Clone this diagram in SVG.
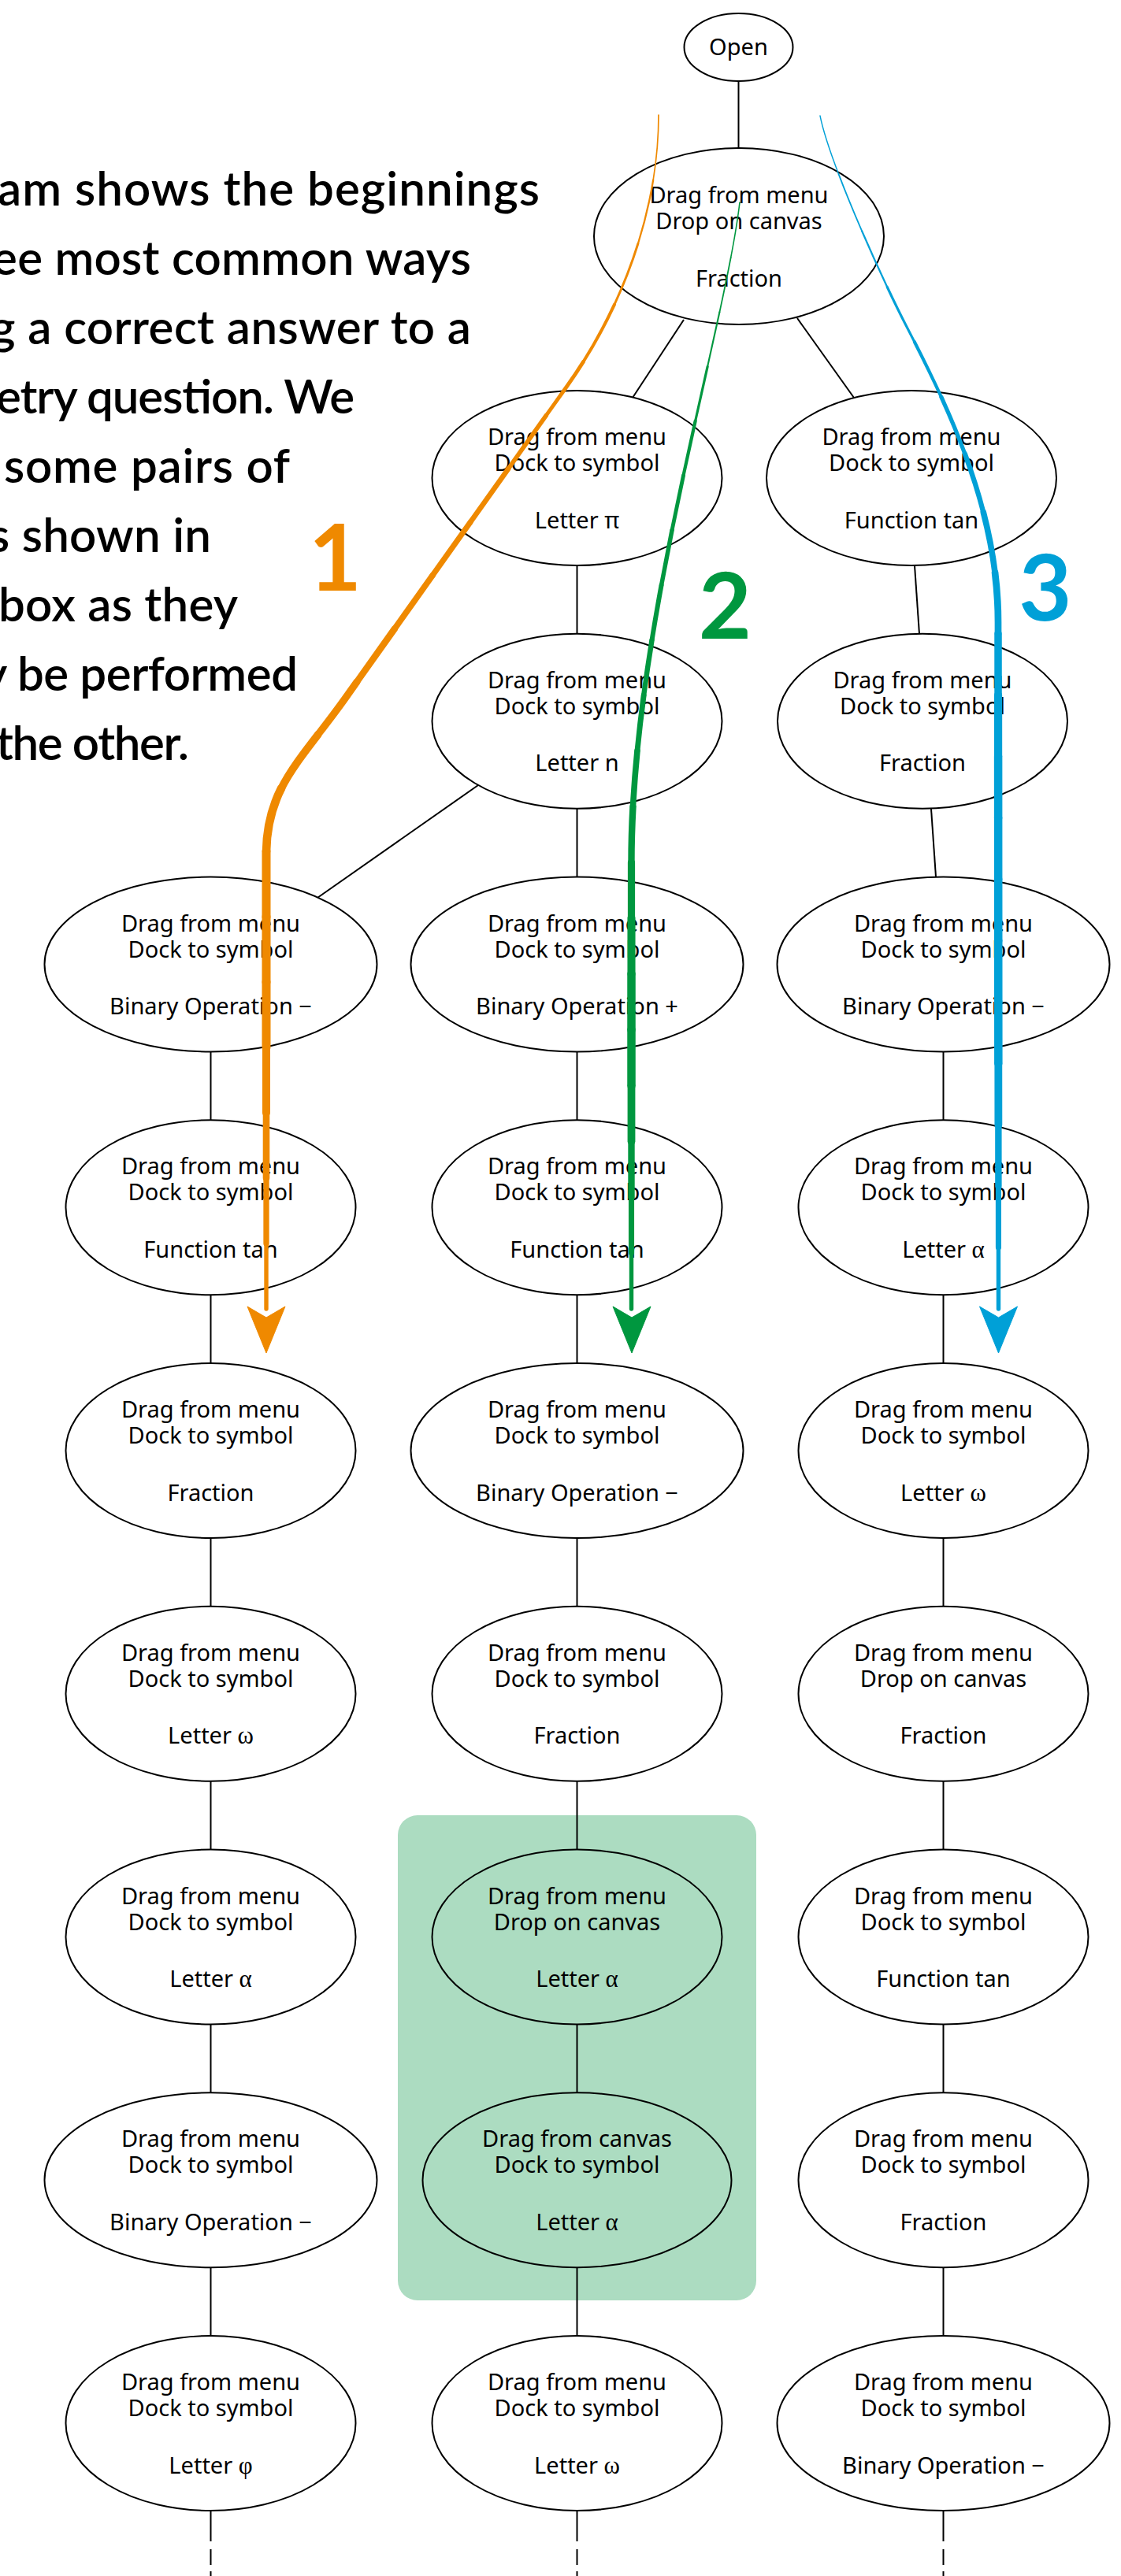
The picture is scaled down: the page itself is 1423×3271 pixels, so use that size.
<svg xmlns="http://www.w3.org/2000/svg" xmlns:xlink="http://www.w3.org/1999/xlink" width="1423" height="3271" viewBox="0 0 1423 3271">
<style>
.node ellipse{fill:#fff;stroke:#000;stroke-width:2}
.node.hl ellipse{fill:none}
.node text{font-family:"Noto Sans","Open Sans",sans-serif;font-size:29px;text-anchor:middle;fill:#000}
.gk{font-family:"Liberation Serif","DejaVu Serif",serif;font-size:31px}
.edge line{stroke:#000;stroke-width:2}
.tail{stroke-dasharray:39 10 20 8 20}
.hdr{font-family:Lato,"Open Sans",sans-serif;font-size:60px;font-weight:600;fill:#000}
.lbl{font-family:Lato,"Open Sans",sans-serif;font-size:116px;font-weight:700;text-anchor:middle}
.seg{fill:none;stroke-linecap:round}
.o{stroke:#ef8900;fill:#ef8900}
.g{stroke:#00973f;fill:#00973f}
.b{stroke:#00a0d7;fill:#00a0d7}
</style>
<defs>
<path id="p1" d="M836,146 C836,266 791,390 720,490 L438,887 C381,967 338,1000 338,1085 L338,1662" pathLength="100"/>
<path id="p2" d="M939,257 C920,420 800,800 801.5,1100 L801.5,1662" pathLength="100"/>
<path id="p3" d="M1041,147 C1053,207 1119,353 1150,413 C1207,523 1267,650 1267,790 L1267.5,1662" pathLength="100"/>
</defs>
<rect id="highlight" x="505" y="2305" width="455" height="616" rx="25" fill="#acdcc1"/>
<g id="text">
<text class="hdr" x="-3" y="261" textLength="688" lengthAdjust="spacing">am shows the beginnings</text>
<text class="hdr" x="-10" y="349" textLength="608" lengthAdjust="spacing">ee most common ways</text>
<text class="hdr" x="-12" y="437" textLength="610" lengthAdjust="spacing">g a correct answer to a</text>
<text class="hdr" x="-5" y="525" textLength="455" lengthAdjust="spacing">etry question. We</text>
<text class="hdr" x="5" y="613" textLength="363" lengthAdjust="spacing">some pairs of</text>
<text class="hdr" x="-14" y="701" textLength="282" lengthAdjust="spacing">s shown in</text>
<text class="hdr" x="-2" y="789" textLength="304" lengthAdjust="spacing">box as they</text>
<text class="hdr" x="-22" y="877" textLength="400" lengthAdjust="spacing">y be performed</text>
<text class="hdr" x="-5" y="965" textLength="245" lengthAdjust="spacing">the other.</text>
</g>
<g id="connectors" class="edge">
<line x1="937.5" y1="103" x2="937.5" y2="189"/>
<line x1="868" y1="406" x2="803" y2="505"/>
<line x1="1012" y1="404" x2="1084" y2="505"/>
<line x1="732.5" y1="718" x2="732.5" y2="805"/>
<line x1="1161" y1="718" x2="1167" y2="805"/>
<line x1="607" y1="997" x2="403" y2="1140"/>
<line x1="732.5" y1="1027" x2="732.5" y2="1113.5"/>
<line x1="1182" y1="1027" x2="1188" y2="1113.5"/>
<line x1="267.5" y1="1335.5" x2="267.5" y2="1422.25"/>
<line x1="267.5" y1="1644.25" x2="267.5" y2="1731"/>
<line x1="267.5" y1="1953" x2="267.5" y2="2039.75"/>
<line x1="267.5" y1="2261.75" x2="267.5" y2="2348.5"/>
<line x1="267.5" y1="2570.5" x2="267.5" y2="2657.25"/>
<line x1="267.5" y1="2879.25" x2="267.5" y2="2966"/>
<line class="tail" x1="267.5" y1="3188" x2="267.5" y2="3271"/>
<line x1="732.5" y1="1335.5" x2="732.5" y2="1422.25"/>
<line x1="732.5" y1="1644.25" x2="732.5" y2="1731"/>
<line x1="732.5" y1="1953" x2="732.5" y2="2039.75"/>
<line x1="732.5" y1="2261.75" x2="732.5" y2="2348.5"/>
<line x1="732.5" y1="2570.5" x2="732.5" y2="2657.25"/>
<line x1="732.5" y1="2879.25" x2="732.5" y2="2966"/>
<line class="tail" x1="732.5" y1="3188" x2="732.5" y2="3271"/>
<line x1="1197.5" y1="1335.5" x2="1197.5" y2="1422.25"/>
<line x1="1197.5" y1="1644.25" x2="1197.5" y2="1731"/>
<line x1="1197.5" y1="1953" x2="1197.5" y2="2039.75"/>
<line x1="1197.5" y1="2261.75" x2="1197.5" y2="2348.5"/>
<line x1="1197.5" y1="2570.5" x2="1197.5" y2="2657.25"/>
<line x1="1197.5" y1="2879.25" x2="1197.5" y2="2966"/>
<line class="tail" x1="1197.5" y1="3188" x2="1197.5" y2="3271"/>
</g>
<g id="n-open" class="node"><ellipse cx="937.5" cy="60" rx="69" ry="43"/><text x="937.5" y="70">Open</text></g>
<g id="n-fraction-top" class="node"><ellipse cx="938" cy="300" rx="184" ry="112"/><text x="938" y="258">Drag from menu</text><text x="938" y="291">Drop on canvas</text><text x="938" y="363.5">Fraction</text></g>
<g id="n-m2" class="node"><ellipse cx="732.5" cy="607" rx="184" ry="111"/><text x="732.5" y="565">Drag from menu</text><text x="732.5" y="598">Dock to symbol</text><text x="732.5" y="670.5">Letter π</text></g>
<g id="n-r2" class="node"><ellipse cx="1157" cy="607" rx="184" ry="111"/><text x="1157" y="565">Drag from menu</text><text x="1157" y="598">Dock to symbol</text><text x="1157" y="670.5">Function tan</text></g>
<g id="n-m3" class="node"><ellipse cx="732.5" cy="915.75" rx="184" ry="111"/><text x="732.5" y="873.75">Drag from menu</text><text x="732.5" y="906.75">Dock to symbol</text><text x="732.5" y="979.25">Letter n</text></g>
<g id="n-r3" class="node"><ellipse cx="1171" cy="915.75" rx="184" ry="111"/><text x="1171" y="873.75">Drag from menu</text><text x="1171" y="906.75">Dock to symbol</text><text x="1171" y="979.25">Fraction</text></g>
<g id="n-l4" class="node"><ellipse cx="267.5" cy="1224.5" rx="211" ry="111"/><text x="267.5" y="1182.5">Drag from menu</text><text x="267.5" y="1215.5">Dock to symbol</text><text x="267.5" y="1288">Binary Operation −</text></g>
<g id="n-m4" class="node"><ellipse cx="732.5" cy="1224.5" rx="211" ry="111"/><text x="732.5" y="1182.5">Drag from menu</text><text x="732.5" y="1215.5">Dock to symbol</text><text x="732.5" y="1288">Binary Operation +</text></g>
<g id="n-r4" class="node"><ellipse cx="1197.5" cy="1224.5" rx="211" ry="111"/><text x="1197.5" y="1182.5">Drag from menu</text><text x="1197.5" y="1215.5">Dock to symbol</text><text x="1197.5" y="1288">Binary Operation −</text></g>
<g id="n-l5" class="node"><ellipse cx="267.5" cy="1533.25" rx="184" ry="111"/><text x="267.5" y="1491.25">Drag from menu</text><text x="267.5" y="1524.25">Dock to symbol</text><text x="267.5" y="1596.75">Function tan</text></g>
<g id="n-m5" class="node"><ellipse cx="732.5" cy="1533.25" rx="184" ry="111"/><text x="732.5" y="1491.25">Drag from menu</text><text x="732.5" y="1524.25">Dock to symbol</text><text x="732.5" y="1596.75">Function tan</text></g>
<g id="n-r5" class="node"><ellipse cx="1197.5" cy="1533.25" rx="184" ry="111"/><text x="1197.5" y="1491.25">Drag from menu</text><text x="1197.5" y="1524.25">Dock to symbol</text><text x="1197.5" y="1596.75">Letter <tspan class="gk">α</tspan></text></g>
<g id="n-l6" class="node"><ellipse cx="267.5" cy="1842" rx="184" ry="111"/><text x="267.5" y="1800">Drag from menu</text><text x="267.5" y="1833">Dock to symbol</text><text x="267.5" y="1905.5">Fraction</text></g>
<g id="n-m6" class="node"><ellipse cx="732.5" cy="1842" rx="211" ry="111"/><text x="732.5" y="1800">Drag from menu</text><text x="732.5" y="1833">Dock to symbol</text><text x="732.5" y="1905.5">Binary Operation −</text></g>
<g id="n-r6" class="node"><ellipse cx="1197.5" cy="1842" rx="184" ry="111"/><text x="1197.5" y="1800">Drag from menu</text><text x="1197.5" y="1833">Dock to symbol</text><text x="1197.5" y="1905.5">Letter <tspan class="gk">ω</tspan></text></g>
<g id="n-l7" class="node"><ellipse cx="267.5" cy="2150.75" rx="184" ry="111"/><text x="267.5" y="2108.75">Drag from menu</text><text x="267.5" y="2141.75">Dock to symbol</text><text x="267.5" y="2214.25">Letter <tspan class="gk">ω</tspan></text></g>
<g id="n-m7" class="node"><ellipse cx="732.5" cy="2150.75" rx="184" ry="111"/><text x="732.5" y="2108.75">Drag from menu</text><text x="732.5" y="2141.75">Dock to symbol</text><text x="732.5" y="2214.25">Fraction</text></g>
<g id="n-r7" class="node"><ellipse cx="1197.5" cy="2150.75" rx="184" ry="111"/><text x="1197.5" y="2108.75">Drag from menu</text><text x="1197.5" y="2141.75">Drop on canvas</text><text x="1197.5" y="2214.25">Fraction</text></g>
<g id="n-l8" class="node"><ellipse cx="267.5" cy="2459.5" rx="184" ry="111"/><text x="267.5" y="2417.5">Drag from menu</text><text x="267.5" y="2450.5">Dock to symbol</text><text x="267.5" y="2523">Letter <tspan class="gk">α</tspan></text></g>
<g id="n-m8" class="node hl"><ellipse cx="732.5" cy="2459.5" rx="184" ry="111"/><text x="732.5" y="2417.5">Drag from menu</text><text x="732.5" y="2450.5">Drop on canvas</text><text x="732.5" y="2523">Letter <tspan class="gk">α</tspan></text></g>
<g id="n-r8" class="node"><ellipse cx="1197.5" cy="2459.5" rx="184" ry="111"/><text x="1197.5" y="2417.5">Drag from menu</text><text x="1197.5" y="2450.5">Dock to symbol</text><text x="1197.5" y="2523">Function tan</text></g>
<g id="n-l9" class="node"><ellipse cx="267.5" cy="2768.25" rx="211" ry="111"/><text x="267.5" y="2726.25">Drag from menu</text><text x="267.5" y="2759.25">Dock to symbol</text><text x="267.5" y="2831.75">Binary Operation −</text></g>
<g id="n-m9" class="node hl"><ellipse cx="732.5" cy="2768.25" rx="196" ry="111"/><text x="732.5" y="2726.25">Drag from canvas</text><text x="732.5" y="2759.25">Dock to symbol</text><text x="732.5" y="2831.75">Letter <tspan class="gk">α</tspan></text></g>
<g id="n-r9" class="node"><ellipse cx="1197.5" cy="2768.25" rx="184" ry="111"/><text x="1197.5" y="2726.25">Drag from menu</text><text x="1197.5" y="2759.25">Dock to symbol</text><text x="1197.5" y="2831.75">Fraction</text></g>
<g id="n-l10" class="node"><ellipse cx="267.5" cy="3077" rx="184" ry="111"/><text x="267.5" y="3035">Drag from menu</text><text x="267.5" y="3068">Dock to symbol</text><text x="267.5" y="3140.5">Letter <tspan class="gk">φ</tspan></text></g>
<g id="n-m10" class="node"><ellipse cx="732.5" cy="3077" rx="184" ry="111"/><text x="732.5" y="3035">Drag from menu</text><text x="732.5" y="3068">Dock to symbol</text><text x="732.5" y="3140.5">Letter <tspan class="gk">ω</tspan></text></g>
<g id="n-r10" class="node"><ellipse cx="1197.5" cy="3077" rx="211" ry="111"/><text x="1197.5" y="3035">Drag from menu</text><text x="1197.5" y="3068">Dock to symbol</text><text x="1197.5" y="3140.5">Binary Operation −</text></g>
<g id="path-1" class="o">
<use xlink:href="#p1" class="seg" stroke-width="1.7" stroke-dasharray="5 300" stroke-dashoffset="0"/>
<use xlink:href="#p1" class="seg" stroke-width="2.3" stroke-dasharray="5 300" stroke-dashoffset="-5"/>
<use xlink:href="#p1" class="seg" stroke-width="2.9" stroke-dasharray="5 300" stroke-dashoffset="-10"/>
<use xlink:href="#p1" class="seg" stroke-width="4.0" stroke-dasharray="5 300" stroke-dashoffset="-15"/>
<use xlink:href="#p1" class="seg" stroke-width="4.8" stroke-dasharray="5 300" stroke-dashoffset="-20"/>
<use xlink:href="#p1" class="seg" stroke-width="5.6" stroke-dasharray="5 300" stroke-dashoffset="-25"/>
<use xlink:href="#p1" class="seg" stroke-width="6.5" stroke-dasharray="5 300" stroke-dashoffset="-30"/>
<use xlink:href="#p1" class="seg" stroke-width="7.1" stroke-dasharray="5 300" stroke-dashoffset="-35"/>
<use xlink:href="#p1" class="seg" stroke-width="7.7" stroke-dasharray="5 300" stroke-dashoffset="-40"/>
<use xlink:href="#p1" class="seg" stroke-width="8.4" stroke-dasharray="5 300" stroke-dashoffset="-45"/>
<use xlink:href="#p1" class="seg" stroke-width="9.1" stroke-dasharray="5 300" stroke-dashoffset="-50"/>
<use xlink:href="#p1" class="seg" stroke-width="9.8" stroke-dasharray="5 300" stroke-dashoffset="-55"/>
<use xlink:href="#p1" class="seg" stroke-width="10.6" stroke-dasharray="5 300" stroke-dashoffset="-60"/>
<use xlink:href="#p1" class="seg" stroke-width="11" stroke-dasharray="5 300" stroke-dashoffset="-65"/>
<use xlink:href="#p1" class="seg" stroke-width="11" stroke-dasharray="5 300" stroke-dashoffset="-70"/>
<use xlink:href="#p1" class="seg" stroke-width="11" stroke-dasharray="5 300" stroke-dashoffset="-75"/>
<use xlink:href="#p1" class="seg" stroke-width="10" stroke-dasharray="5 300" stroke-dashoffset="-80"/>
<use xlink:href="#p1" class="seg" stroke-width="8.6" stroke-dasharray="5 300" stroke-dashoffset="-85"/>
<use xlink:href="#p1" class="seg" stroke-width="7.3" stroke-dasharray="5 300" stroke-dashoffset="-90"/>
<use xlink:href="#p1" class="seg" stroke-width="5.4" stroke-dasharray="5 300" stroke-dashoffset="-95"/>
<polygon points="314,1659 338,1673 362,1659 338,1718"/>
</g>
<g id="path-2" class="g">
<use xlink:href="#p2" class="seg" stroke-width="1.6" stroke-dasharray="5 300" stroke-dashoffset="0"/>
<use xlink:href="#p2" class="seg" stroke-width="1.8" stroke-dasharray="5 300" stroke-dashoffset="-5"/>
<use xlink:href="#p2" class="seg" stroke-width="2.1" stroke-dasharray="5 300" stroke-dashoffset="-10"/>
<use xlink:href="#p2" class="seg" stroke-width="3.2" stroke-dasharray="5 300" stroke-dashoffset="-15"/>
<use xlink:href="#p2" class="seg" stroke-width="4.2" stroke-dasharray="5 300" stroke-dashoffset="-20"/>
<use xlink:href="#p2" class="seg" stroke-width="4.9" stroke-dasharray="5 300" stroke-dashoffset="-25"/>
<use xlink:href="#p2" class="seg" stroke-width="5.5" stroke-dasharray="5 300" stroke-dashoffset="-30"/>
<use xlink:href="#p2" class="seg" stroke-width="6.0" stroke-dasharray="5 300" stroke-dashoffset="-35"/>
<use xlink:href="#p2" class="seg" stroke-width="6.4" stroke-dasharray="5 300" stroke-dashoffset="-40"/>
<use xlink:href="#p2" class="seg" stroke-width="6.9" stroke-dasharray="5 300" stroke-dashoffset="-45"/>
<use xlink:href="#p2" class="seg" stroke-width="7.6" stroke-dasharray="5 300" stroke-dashoffset="-50"/>
<use xlink:href="#p2" class="seg" stroke-width="8.4" stroke-dasharray="5 300" stroke-dashoffset="-55"/>
<use xlink:href="#p2" class="seg" stroke-width="9.2" stroke-dasharray="5 300" stroke-dashoffset="-60"/>
<use xlink:href="#p2" class="seg" stroke-width="10.1" stroke-dasharray="5 300" stroke-dashoffset="-65"/>
<use xlink:href="#p2" class="seg" stroke-width="10.5" stroke-dasharray="5 300" stroke-dashoffset="-70"/>
<use xlink:href="#p2" class="seg" stroke-width="10.5" stroke-dasharray="5 300" stroke-dashoffset="-75"/>
<use xlink:href="#p2" class="seg" stroke-width="9.8" stroke-dasharray="5 300" stroke-dashoffset="-80"/>
<use xlink:href="#p2" class="seg" stroke-width="8.4" stroke-dasharray="5 300" stroke-dashoffset="-85"/>
<use xlink:href="#p2" class="seg" stroke-width="7.1" stroke-dasharray="5 300" stroke-dashoffset="-90"/>
<use xlink:href="#p2" class="seg" stroke-width="5.4" stroke-dasharray="5 300" stroke-dashoffset="-95"/>
<polygon points="778,1659 802,1673 826,1659 802,1718"/>
</g>
<g id="path-3" class="b">
<use xlink:href="#p3" class="seg" stroke-width="1.4" stroke-dasharray="5 300" stroke-dashoffset="0"/>
<use xlink:href="#p3" class="seg" stroke-width="1.8" stroke-dasharray="5 300" stroke-dashoffset="-5"/>
<use xlink:href="#p3" class="seg" stroke-width="2.3" stroke-dasharray="5 300" stroke-dashoffset="-10"/>
<use xlink:href="#p3" class="seg" stroke-width="3.1" stroke-dasharray="5 300" stroke-dashoffset="-15"/>
<use xlink:href="#p3" class="seg" stroke-width="4.1" stroke-dasharray="5 300" stroke-dashoffset="-20"/>
<use xlink:href="#p3" class="seg" stroke-width="5.2" stroke-dasharray="5 300" stroke-dashoffset="-25"/>
<use xlink:href="#p3" class="seg" stroke-width="6.3" stroke-dasharray="5 300" stroke-dashoffset="-30"/>
<use xlink:href="#p3" class="seg" stroke-width="7.6" stroke-dasharray="5 300" stroke-dashoffset="-35"/>
<use xlink:href="#p3" class="seg" stroke-width="8.7" stroke-dasharray="5 300" stroke-dashoffset="-40"/>
<use xlink:href="#p3" class="seg" stroke-width="9.5" stroke-dasharray="5 300" stroke-dashoffset="-45"/>
<use xlink:href="#p3" class="seg" stroke-width="10.2" stroke-dasharray="5 300" stroke-dashoffset="-50"/>
<use xlink:href="#p3" class="seg" stroke-width="10.5" stroke-dasharray="5 300" stroke-dashoffset="-55"/>
<use xlink:href="#p3" class="seg" stroke-width="10.5" stroke-dasharray="5 300" stroke-dashoffset="-60"/>
<use xlink:href="#p3" class="seg" stroke-width="10.5" stroke-dasharray="5 300" stroke-dashoffset="-65"/>
<use xlink:href="#p3" class="seg" stroke-width="10.5" stroke-dasharray="5 300" stroke-dashoffset="-70"/>
<use xlink:href="#p3" class="seg" stroke-width="10.5" stroke-dasharray="5 300" stroke-dashoffset="-75"/>
<use xlink:href="#p3" class="seg" stroke-width="9.8" stroke-dasharray="5 300" stroke-dashoffset="-80"/>
<use xlink:href="#p3" class="seg" stroke-width="8.4" stroke-dasharray="5 300" stroke-dashoffset="-85"/>
<use xlink:href="#p3" class="seg" stroke-width="7.1" stroke-dasharray="5 300" stroke-dashoffset="-90"/>
<use xlink:href="#p3" class="seg" stroke-width="5.4" stroke-dasharray="5 300" stroke-dashoffset="-95"/>
<polygon points="1243.5,1659 1267.5,1673 1291.5,1659 1267.5,1718"/>
</g>
<g id="labels">
<text class="lbl" x="425.5" y="750" fill="#ef8900">1</text>
<text class="lbl" x="920.5" y="811" fill="#00973f">2</text>
<text class="lbl" x="1327" y="788" fill="#00a0d7">3</text>
</g>
</svg>
